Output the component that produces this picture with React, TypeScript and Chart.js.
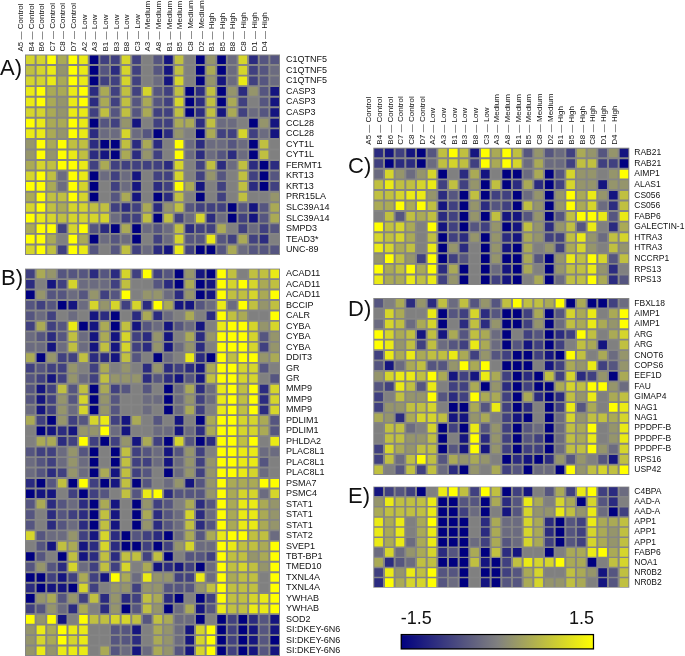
import React, { useEffect, useRef } from "react";
import { Chart, registerables } from "chart.js";

Chart.register(...registerables);

const FONT = '"Liberation Sans", Arial, sans-serif';
// Cell values are stored in quarter units: 6 = +1.5, -6 = -1.5.
const LEVEL_MAX = 6;

const sampleLabels = [
  "A5 — Control", "B4 — Control", "B6 — Control", "C7 — Control", "C8 — Control", "D7 — Control",
  "A2 — Low", "A3 — Low", "B1 — Low", "B3 — Low", "B8 — Low", "C3 — Low",
  "A3 — Medium", "A8 — Medium", "B1 — Medium", "B5 — Medium", "C8 — Medium", "D2 — Medium",
  "B1 — High", "B5 — High", "B8 — High", "C8 — High", "D1 — High", "D4 — High",
];

const genesA = ["C1QTNF5", "C1QTNF5", "C1QTNF5", "CASP3", "CASP3", "CASP3", "CCL28", "CCL28", "CYT1L", "CYT1L", "FERMT1", "KRT13", "KRT13", "PRR15LA", "SLC39A14", "SLC39A14", "SMPD3", "TEAD3*", "UNC-89"];
const valuesA = [
  [4,4,6,2,6,5,-6,-3,-3,4,-3,0,-2,-5,3,0,-6,1,-6,-1,4,-4,-2,-2],
  [3,4,5,1,6,5,-6,-2,-4,4,-3,0,-2,-5,3,0,-6,2,-6,-1,4,-3,-2,-1],
  [4,4,5,2,6,5,-6,-3,-3,4,-3,0,-1,-5,4,0,-6,1,-5,-1,5,-3,-2,-1],
  [5,6,2,2,5,6,-4,2,-3,3,-3,4,-2,-3,3,-6,-4,3,-6,1,-4,1,-2,-5],
  [5,6,2,1,5,6,-4,2,-3,3,-2,2,-2,-3,4,-6,-4,3,-6,2,-3,0,-2,-5],
  [4,4,2,1,5,5,-3,3,-2,3,-2,2,-3,-3,3,-6,-4,3,-5,2,-3,-1,-2,-5],
  [6,5,2,2,6,5,-6,-2,-3,1,-5,0,-3,-3,2,2,-4,3,-1,-1,0,-6,1,-5],
  [5,5,2,1,6,5,-4,-1,-1,4,-1,-2,-6,-4,1,0,-6,2,-3,-3,4,-3,-1,-5],
  [1,6,2,6,3,3,-4,-6,-6,3,-4,2,-4,0,6,-1,-4,-1,-1,-2,-1,-6,3,0],
  [1,6,1,6,5,3,-4,-5,-6,2,-4,1,-3,0,6,-1,-4,-1,-2,-4,-1,-6,3,0],
  [2,4,3,6,6,5,-3,2,-3,-3,-3,-3,-3,-4,4,0,-3,3,-4,-1,3,-4,-6,-4],
  [4,6,3,-1,6,5,-6,-1,-3,-1,-5,0,-3,-3,4,0,-3,1,-2,0,3,-3,-6,-2],
  [6,6,2,-1,6,4,-6,0,-3,-1,-5,0,-4,-3,6,2,-5,0,-3,0,3,-4,-6,-3],
  [2,6,3,3,6,4,-6,0,-2,2,-5,0,-6,-4,3,0,-6,0,-3,0,3,0,0,1],
  [4,6,3,2,4,4,3,3,-3,-4,-3,2,-4,1,3,-2,-3,-3,-3,-6,-2,-5,-2,2],
  [6,5,4,3,4,4,4,4,-1,-3,-3,3,-6,3,-3,-1,4,-4,-1,-6,-3,-5,-2,2],
  [2,6,6,-3,4,6,-2,-4,-6,2,-6,-1,-2,-1,3,-4,-3,-3,2,0,-3,-1,-3,-2],
  [6,6,2,0,6,2,-6,-1,-2,-1,-6,0,-3,-1,4,-2,-2,5,-2,-3,2,-3,-4,0],
  [4,6,3,-3,6,5,-2,0,-2,3,-3,-1,-4,-5,5,-3,-6,-6,-2,2,-1,-2,-2,-2],
];

const genesB = ["ACAD11", "ACAD11", "ACAD11", "BCCIP", "CALR", "CYBA", "CYBA", "CYBA", "DDIT3", "GR", "GR", "MMP9", "MMP9", "MMP9", "PDLIM1", "PDLIM1", "PHLDA2", "PLAC8L1", "PLAC8L1", "PLAC8L1", "PSMA7", "PSMC4", "STAT1", "STAT1", "STAT1", "STAT2", "SVEP1", "TBT-BP1", "TMED10", "TXNL4A", "TXNL4A", "YWHAB", "YWHAB", "SOD2", "SI:DKEY-6N6.2", "SI:DKEY-6N6.2", "SI:DKEY-6N6.2"];
const valuesB = [
  [-3,2,1,-2,-2,-2,-4,-2,-4,4,-3,6,-3,-2,-6,1,-5,-6,6,3,0,3,3,5],
  [-4,0,-5,-3,4,-1,-1,-1,-3,3,0,0,-2,-4,-6,2,-6,-5,6,4,6,4,2,3],
  [-6,1,-2,-2,-1,-2,1,-3,-2,6,0,1,1,-1,-4,1,-6,-5,6,3,3,4,2,6],
  [-2,-3,-2,-6,-5,-1,4,1,4,-3,4,-4,6,2,-5,-5,-2,-1,5,-1,6,3,1,3],
  [-2,-1,-3,0,-1,0,-5,-4,-6,0,-4,2,-4,-1,0,2,0,-4,6,3,2,0,0,6],
  [-3,2,-3,-2,5,-6,-5,2,-6,3,-5,-2,-1,-5,-2,-1,-5,0,5,6,6,4,1,4],
  [-1,-2,-4,-2,3,-1,-5,2,-5,4,-3,-4,1,-5,0,2,-4,1,6,6,6,4,-2,1],
  [-1,-1,-5,-1,3,-1,-5,3,-5,4,-3,-4,1,-5,-1,1,-4,0,6,6,6,4,-3,1],
  [2,-6,1,-3,-3,3,-4,-4,-5,3,-2,0,-6,-1,0,5,-4,-6,6,3,6,6,1,2],
  [-3,-2,-3,-3,1,0,-3,2,0,1,0,-4,1,-4,-3,-4,-5,2,6,6,4,4,-2,0],
  [-2,-3,-5,-3,1,-1,-3,3,1,1,1,-4,-2,-4,-5,-2,-5,3,6,6,4,4,0,-2],
  [-2,-5,-3,3,-2,3,-6,2,-3,-2,0,-2,0,-6,-1,2,-4,-1,5,6,3,6,-4,4],
  [-2,-5,-3,1,-2,4,-6,1,-2,0,0,-1,-1,-6,-1,1,-3,-1,5,6,3,6,-4,4],
  [-1,-5,-3,1,-1,4,-6,1,-2,0,0,-1,0,-6,-1,2,-3,0,5,6,3,6,-4,4],
  [2,-3,-6,1,-3,-2,4,5,-3,-5,2,0,-2,0,-5,0,-6,2,6,6,4,4,2,-2],
  [0,-6,-5,-4,-5,1,1,6,-1,-5,0,0,-1,-1,-5,-1,-4,2,6,6,4,4,2,-2],
  [0,2,2,-4,-3,6,-3,-6,-3,1,-5,2,-3,-6,4,-2,-6,-4,6,6,3,6,0,5],
  [-2,-3,-3,-1,1,-2,-6,0,-6,3,-3,-2,-1,-5,-2,1,-3,0,6,6,5,5,-1,-1],
  [-1,-2,-3,-1,1,-1,-6,0,-6,3,-3,-3,-1,-5,-1,1,-3,1,6,6,5,5,-2,0],
  [-1,-2,-4,-3,1,-1,-6,2,-5,3,-3,-2,0,-6,-1,1,-3,1,6,6,5,4,-1,0],
  [-4,-6,-2,3,-6,6,-3,-6,-5,3,-6,-2,0,-1,1,-5,-2,1,6,2,2,2,6,6],
  [-6,-5,-5,0,-3,-6,-3,-2,0,3,-2,5,6,-4,-2,-2,-2,1,6,2,4,4,-1,4],
  [-2,2,-4,-2,-1,-4,-6,2,-5,0,-6,1,-3,-2,0,2,-4,-2,6,2,5,5,2,1],
  [-2,0,-4,-2,-3,-4,-6,3,-5,0,-6,2,-4,-2,-1,4,-4,-1,6,2,5,5,2,1],
  [-2,0,-4,-2,-1,-4,-6,3,-5,0,-6,1,-4,-2,-1,3,-4,-2,6,2,5,5,2,1],
  [4,-2,-1,-1,1,-3,-5,4,-4,-6,-2,-3,-4,-6,-1,2,-2,2,5,6,6,3,3,-1],
  [0,-2,-5,3,2,-5,-4,4,-4,-6,-6,-3,-6,-3,1,4,-1,-1,6,5,3,3,2,6],
  [-6,-2,0,-6,3,-5,-4,3,-4,3,3,-3,3,-6,0,-2,-2,-3,6,3,3,1,2,6],
  [-2,1,-2,-4,4,-1,-3,3,-3,4,0,2,-5,-4,-5,-3,-6,-1,6,3,4,3,1,6],
  [-6,-6,-3,-5,-3,2,-3,-5,6,2,-1,5,1,1,-3,-3,5,-1,6,2,3,3,0,6],
  [-4,-6,-5,-5,-6,4,-3,0,1,1,-3,1,1,-2,-2,-2,1,3,6,3,3,3,0,6],
  [-6,1,2,-2,1,-3,3,-4,1,-4,-3,3,2,-4,-6,0,-6,-3,6,3,3,4,5,6],
  [-3,-2,1,-1,-4,2,0,-4,1,-6,-2,3,1,-6,-1,2,-5,-2,5,3,3,5,5,6],
  [6,1,6,-5,0,6,3,3,4,4,3,-2,3,2,-1,-1,-6,0,-6,-3,-6,-4,-2,-5],
  [1,5,2,6,5,5,0,0,-2,-2,-5,0,2,1,-1,-5,4,6,-6,-3,-6,-5,-2,-5],
  [1,4,2,6,4,5,0,0,-2,-2,-4,0,2,1,-1,-5,4,6,-6,-3,-6,-5,-2,-6],
  [1,5,1,5,5,5,0,2,-2,-1,-5,-1,2,1,-2,-5,4,6,-6,-3,-6,-5,-2,-5],
];

const genesC = ["RAB21", "RAB21", "AIMP1", "ALAS1", "CS056", "CS056", "FABP6", "GALECTIN-1", "HTRA3", "HTRA3", "NCCRP1", "RPS13", "RPS13"];
const valuesC = [
  [-4,-5,-3,-5,-6,-2,3,6,3,-5,6,2,6,3,-2,1,-2,-1,-3,2,1,-2,1,-5],
  [-3,-6,-4,-4,-6,-1,3,4,3,-3,6,2,6,4,-1,2,-1,-1,-3,3,3,-3,-3,-6],
  [-1,4,1,-1,1,4,-6,0,-4,2,-5,0,-6,-6,-1,2,-6,-2,4,1,1,0,1,6],
  [3,5,3,3,4,5,-3,3,-3,1,-6,3,-6,-4,2,-4,-6,-3,4,1,1,-5,1,1],
  [3,3,4,5,5,1,-4,-2,-6,3,-6,-3,-3,-6,-1,1,-6,1,6,2,5,1,-5,3],
  [2,2,6,2,6,3,-5,-3,-6,1,-4,-2,-3,-6,3,1,-6,1,6,2,4,-1,-4,3],
  [0,3,-2,3,2,3,-4,-3,-6,1,-6,3,-5,-5,-2,1,-6,-2,3,6,6,5,-2,5],
  [6,3,4,2,0,6,-5,-3,-6,-2,-3,1,-6,-5,3,1,-4,1,3,-2,5,0,-4,2],
  [4,3,4,2,0,3,-6,-3,-4,1,-6,1,-4,-5,2,1,-3,-3,3,5,1,-1,3,4],
  [5,4,2,3,0,5,-6,1,-4,0,-6,1,-5,-6,2,0,1,-3,2,4,1,0,3,1],
  [1,6,3,1,-3,6,-6,-3,-2,0,-6,1,-6,-6,2,-2,-6,1,5,3,6,4,-2,3],
  [6,2,3,6,2,6,-4,2,-6,0,-6,-1,-5,-6,2,0,-6,1,3,3,5,1,-4,0],
  [5,2,2,5,3,5,-3,1,-6,0,-6,-3,-5,-6,0,2,-6,-1,3,3,6,2,-4,-2],
];

const genesD = ["FBXL18", "AIMP1", "AIMP1", "ARG", "ARG", "CNOT6", "COPS6", "EEF1D", "FAU", "GIMAP4", "NAG1", "NAG1", "PPDPF-B", "PPDPF-B", "PPDPF-B", "RPS16", "USP42"];
const valuesD = [
  [-2,0,2,-4,1,-4,3,-1,3,-2,1,-2,3,6,3,3,2,6,-6,2,-6,-6,-3,-1],
  [0,4,2,0,0,5,-6,-2,-3,4,-4,-2,-6,-6,-3,2,-6,-2,4,2,5,0,2,6],
  [-1,4,3,-1,2,4,-6,0,-4,3,-4,1,-6,-6,-3,1,-6,-1,3,2,5,2,1,6],
  [6,4,2,3,-5,3,-5,2,-2,3,2,-1,-6,0,-3,-2,-6,-4,-3,6,3,0,2,4],
  [6,5,1,3,-3,3,-1,-2,-3,5,2,-1,-6,-2,-5,-3,-6,-3,0,3,2,-5,0,3],
  [-3,5,2,5,2,3,3,5,2,-3,1,-2,-3,-6,-6,-3,-5,-6,6,3,0,2,-1,1],
  [-2,-5,-1,2,3,-2,-2,1,6,2,6,0,-6,-6,-6,0,-5,-3,2,1,5,-3,-2,1],
  [1,4,5,5,3,6,2,-5,-3,-5,5,2,-3,-6,-4,-6,3,-3,4,-4,-3,1,-6,2],
  [-2,-3,5,3,-2,5,0,-3,-3,2,-6,1,-4,-6,-3,-6,-6,2,4,3,6,6,1,-1],
  [-3,0,3,1,1,6,-2,-4,-3,6,2,2,-3,-6,2,-4,-6,-4,3,1,5,0,2,3],
  [-3,1,1,3,3,4,0,-6,-6,2,-2,5,-3,-6,-4,0,-6,-3,5,-2,2,0,6,5],
  [2,1,-4,2,4,4,3,-5,-5,1,2,0,-3,-5,-6,0,-6,-1,4,1,3,3,2,4],
  [0,3,3,-1,0,4,-6,-3,-6,5,-2,1,-3,-6,-2,-1,-6,-1,3,2,6,0,1,5],
  [0,3,3,1,1,3,-6,0,-5,6,-4,1,-3,-6,-2,-3,-6,-1,3,2,5,0,1,5],
  [-3,4,2,1,3,3,-6,-2,-5,6,-5,1,-3,-6,-3,-3,-6,-1,3,3,6,1,-1,4],
  [-3,3,-1,3,6,3,-2,2,1,2,1,0,-6,-4,-5,-6,-4,1,-2,1,0,-2,-5,3],
  [3,0,-2,3,-3,3,-1,-4,-6,1,0,2,-3,-2,-6,-1,-1,-6,6,1,3,4,3,6],
];

const genesE = ["C4BPA", "AAD-A", "AAD-A", "APP1", "APP1", "APP1", "FABP6", "NOA1", "NR0B2", "NR0B2"];
const valuesE = [
  [-5,-3,-2,-3,-6,0,5,6,3,-3,6,3,-6,-3,-5,0,-2,2,-3,5,6,-3,-4,-1],
  [1,5,3,3,3,5,-6,-6,-2,-2,-6,2,-4,-2,5,2,0,4,2,-6,4,-2,-4,0],
  [2,3,3,3,3,5,-6,-6,-3,-1,-6,0,-5,-2,4,1,1,5,3,1,5,-1,-6,-3],
  [5,2,5,0,2,6,-6,-6,-6,0,-4,2,-1,-1,4,2,-4,-6,-2,-3,5,2,2,3],
  [5,2,5,0,2,5,-6,-6,-6,0,-4,2,-1,-1,4,2,-4,-6,-2,-3,4,2,1,3],
  [5,2,5,-1,2,5,-6,-6,-6,-1,-3,2,-2,-1,4,2,-3,-6,-2,-3,4,2,1,3],
  [-1,4,-1,1,2,4,-4,-2,-6,2,-6,3,-4,-5,0,0,-6,0,2,2,5,6,2,4],
  [2,-4,-2,-1,3,3,-6,-6,-6,3,-5,-6,-3,3,5,4,4,6,2,2,-6,0,3,4],
  [-3,5,1,5,3,6,-2,-2,-6,0,-6,-6,-3,-2,2,4,0,0,3,2,1,-5,-2,3],
  [-4,6,2,4,4,6,-2,-1,-6,0,-5,-6,-2,-2,2,4,1,1,3,2,0,-5,-2,3],
];

const scaleEnds = [-1.5, 1.5];

function levelColor(level: number): string {
  const t = Math.max(-1, Math.min(1, level / LEVEL_MAX));
  if (t < 0) {
    const c = Math.round(128 * (1 + t));
    return `rgb(${c},${c},128)`;
  }
  const c = Math.round(128 + 127 * t);
  return `rgb(${c},${c},${Math.round(128 * (1 - t))})`;
}

const clearPadding = (s: any) => {
  s.paddingLeft = 0;
  s.paddingRight = 0;
  s.paddingTop = 0;
  s.paddingBottom = 0;
};

const plotFill = {
  id: "plotFill",
  beforeDatasetsDraw(chart: any) {
    const { ctx, chartArea: a } = chart;
    ctx.save();
    ctx.fillStyle = "#858585";
    ctx.fillRect(a.left, a.top, a.right - a.left, a.bottom - a.top);
    ctx.restore();
  },
};

type PanelProps = {
  left: number; top: number; width: number; height: number;
  plotLeft: number; plotRight: number; plotTop: number; plotBottom: number;
  genes: string[]; values: number[][]; showSamples: boolean; labelPad: number; geneFont: number;
};

function Panel(p: PanelProps) {
  const ref = useRef<HTMLCanvasElement>(null);
  useEffect(() => {
    const points = p.values.flatMap((row, y) => row.map((v, x) => ({ x, y, v })));
    const chart = new Chart(ref.current!, {
      type: "scatter",
      data: {
        datasets: [{
          data: points,
          pointStyle: "rect",
          pointRadius: 6.1,
          pointBorderWidth: 0,
          pointBackgroundColor: (c: any) => levelColor(c.raw ? c.raw.v : 0),
        }],
      },
      plugins: [plotFill],
      options: {
        animation: false,
        responsive: false,
        events: [],
        layout: {
          autoPadding: false,
          padding: { left: p.plotLeft, right: 0, top: p.showSamples ? 0 : p.plotTop, bottom: p.height - p.plotBottom },
        },
        plugins: { legend: { display: false }, tooltip: { enabled: false } },
        scales: {
          x: {
            type: "linear",
            position: "top",
            display: p.showSamples ? true : false,
            min: -0.5,
            max: sampleLabels.length - 0.5,
            border: { display: false },
            grid: { display: false, drawTicks: false },
            afterBuildTicks: (s: any) => { s.ticks = sampleLabels.map((_, i) => ({ value: i })); },
            afterFit: (s: any) => { s.height = p.plotTop; clearPadding(s); },
            ticks: {
              autoSkip: false, minRotation: 90, maxRotation: 90, padding: 3,
              color: "#111", font: { family: FONT, size: 8 },
              callback: (v: any) => sampleLabels[v],
            },
          },
          y: {
            type: "linear",
            position: "right",
            reverse: true,
            min: -0.5,
            max: p.genes.length - 0.5,
            border: { display: false },
            grid: { display: false, drawTicks: false },
            afterBuildTicks: (s: any) => { s.ticks = p.genes.map((_, i) => ({ value: i })); },
            afterFit: (s: any) => { s.width = p.width - p.plotRight; clearPadding(s); },
            ticks: {
              autoSkip: false, padding: p.labelPad,
              color: "#111", font: { family: FONT, size: p.geneFont },
              callback: (v: any) => p.genes[v],
            },
          },
        },
      } as any,
    });
    return () => chart.destroy();
  }, []);
  return (
    <canvas ref={ref} width={p.width} height={p.height}
      style={{ position: "absolute", left: p.left, top: p.top, width: p.width, height: p.height }} />
  );
}

function ColorBar() {
  const ref = useRef<HTMLCanvasElement>(null);
  useEffect(() => {
    const chart = new Chart(ref.current!, {
      type: "bar",
      data: {
        labels: [""],
        datasets: [{
          data: [[scaleEnds[0], scaleEnds[1]]],
          barPercentage: 1,
          categoryPercentage: 1,
          borderColor: "#000",
          borderWidth: 1.5,
          borderSkipped: false,
          clip: false,
          backgroundColor: (c: any) => {
            const a = c.chart.chartArea;
            if (!a) return "#808080";
            const g = c.chart.ctx.createLinearGradient(a.left, 0, a.right, 0);
            g.addColorStop(0, levelColor(-LEVEL_MAX));
            g.addColorStop(0.5, levelColor(0));
            g.addColorStop(1, levelColor(LEVEL_MAX));
            return g;
          },
        }],
      },
      options: {
        indexAxis: "y",
        animation: false,
        responsive: false,
        events: [],
        layout: { autoPadding: false, padding: { left: 20.7, right: 26, top: 0, bottom: 6.7 } },
        plugins: { legend: { display: false }, tooltip: { enabled: false } },
        scales: {
          x: {
            type: "linear",
            position: "top",
            min: scaleEnds[0],
            max: scaleEnds[1],
            border: { display: false },
            grid: { display: false, drawTicks: false },
            afterBuildTicks: (s: any) => { s.ticks = scaleEnds.map((value) => ({ value })); },
            afterFit: (s: any) => { s.height = 24; clearPadding(s); },
            ticks: {
              align: "inner", autoSkip: false, maxRotation: 0, padding: 4,
              color: "#111", font: { family: FONT, size: 18 },
              callback: (v: any) => String(v),
            },
          },
          y: { display: false },
        },
      } as any,
    });
    return () => chart.destroy();
  }, []);
  return (
    <canvas ref={ref} width={240} height={46}
      style={{ position: "absolute", left: 380, top: 610, width: 240, height: 46 }} />
  );
}

const panelLetters: [string, number, number][] = [
  ["A)", 0, 55], ["B)", 1, 265], ["C)", 348, 153], ["D)", 348, 296], ["E)", 348, 483],
];

export default function App() {
  return (
    <div style={{ position: "absolute", left: 0, top: 0, width: 685, height: 656, overflow: "hidden", background: "#fff", filter: "blur(0.35px)" }}>
      <Panel left={0} top={0} width={340} height={256} plotLeft={25} plotRight={280} plotTop={54.5} plotBottom={255}
        genes={genesA} values={valuesA} showSamples={true} labelPad={6} geneFont={9} />
      <Panel left={0} top={260} width={340} height={396} plotLeft={25} plotRight={280} plotTop={4.3} plotBottom={396}
        genes={genesB} values={valuesB} showSamples={false} labelPad={6} geneFont={9} />
      <Panel left={340} top={90} width={345} height={196} plotLeft={33.3} plotRight={289.3} plotTop={57.7} plotBottom={195}
        genes={genesC} values={valuesC} showSamples={true} labelPad={5} geneFont={8.5} />
      <Panel left={340} top={290} width={345} height={186} plotLeft={33.3} plotRight={289.3} plotTop={4} plotBottom={185}
        genes={genesD} values={valuesD} showSamples={false} labelPad={5} geneFont={8.5} />
      <Panel left={340} top={480} width={345} height={109} plotLeft={33.3} plotRight={289.3} plotTop={3.3} plotBottom={107.7}
        genes={genesE} values={valuesE} showSamples={false} labelPad={5} geneFont={8.5} />
      <ColorBar />
      {panelLetters.map(([t, x, y]) => (
        <div key={t} style={{ position: "absolute", left: x, top: y, font: `22px ${FONT}`, color: "#111", lineHeight: "26px" }}>{t}</div>
      ))}
    </div>
  );
}
